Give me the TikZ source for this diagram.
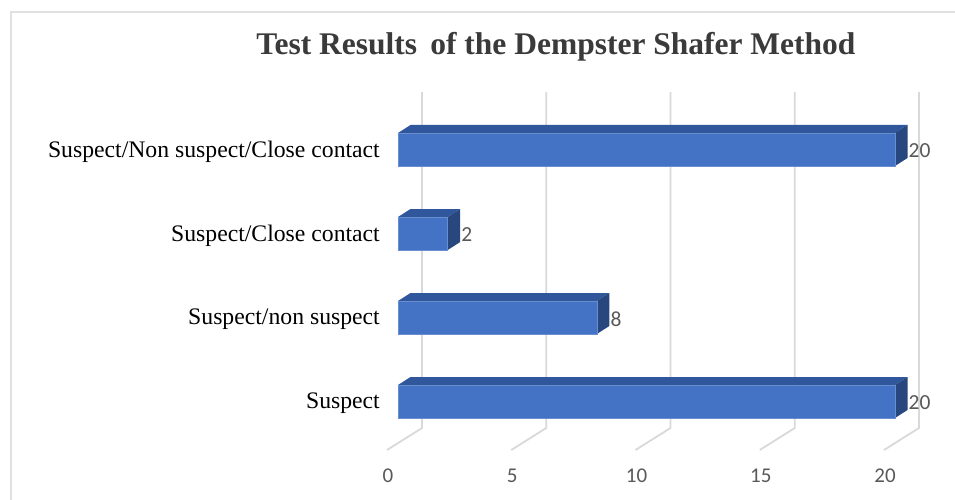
\documentclass[tikz,border=0pt]{standalone}
\usepackage{fontspec}
\setmainfont{Liberation Serif}
\newfontfamily\ticksfont{Carlito}
\definecolor{barfront}{HTML}{4472C4}
\definecolor{bartop}{HTML}{30579B}
\definecolor{barside}{HTML}{28477F}
\definecolor{gridgray}{HTML}{D9D9D9}
\definecolor{labelgray}{HTML}{595959}
\definecolor{titlegray}{HTML}{3A3A3A}
\begin{document}
\begin{tikzpicture}[x=1pt,y=-1pt,
  gridline/.style={draw=gridgray,line width=1.8pt},
  framestyle/.style={draw=gridgray!80,line width=1.5pt},
  frontface/.style={fill=barfront,draw=barfront!80!white,line width=0.6pt},
  topface/.style={fill=bartop},
  sideface/.style={fill=barside},
  catlabel/.style={anchor=east,inner sep=0pt,font=\fontsize{23.7}{27}\selectfont},
  vallabel/.style={anchor=west,inner sep=0pt,text=labelgray,font=\ticksfont\fontsize{21.5}{24}\selectfont},
  ticklabel/.style={inner sep=0pt,text=labelgray,font=\ticksfont\fontsize{21}{24}\selectfont},
  titlestyle/.style={inner sep=0pt,text=titlegray,font=\bfseries\fontsize{31.5}{36}\selectfont}]
% canvas
\fill[white] (0,0) rectangle (955,500);
\useasboundingbox (0,0) rectangle (955,500);
% chart frame
\draw[framestyle] (11,500) -- (11,12) -- (955,12);
% title
\node[titlestyle] (title) at (556,47) {Test Results\, of the Dempster Shafer Method};
% back-wall gridlines, floor lines and axis values
\foreach \k/\v in {0/0,1/5,2/10,3/15,4/20}{
  \coordinate (gtop\k) at (422+124.25*\k,92);
  \coordinate (gfoot\k) at (422+124.25*\k,428);
  \coordinate (gfront\k) at (387+124.25*\k,450);
  \draw[gridline] (gtop\k) -- (gfoot\k) -- (gfront\k);
  \node[ticklabel] (tick\k) at (388+124.25*\k,476) {\v};
}
% 3D bars: top y of the front face, value, category
\foreach \i/\yt/\val/\cat in {
  1/133/20/{Suspect/Non suspect/Close contact},
  2/217/2/{Suspect/Close contact},
  3/301/8/{Suspect/non suspect},
  4/385/20/{Suspect}}{
  \pgfmathsetmacro{\xr}{398+24.85*\val}
  \pgfmathsetmacro{\yb}{\yt+33}
  \coordinate (fl\i) at (398,\yt);
  \coordinate (fr\i) at (\xr,\yt);
  \coordinate (br\i) at (\xr,\yb);
  \coordinate (bl\i) at (398,\yb);
  \coordinate (tl\i) at (410.5,\yt-8);
  \coordinate (tr\i) at (\xr+12.5,\yt-8);
  \coordinate (sr\i) at (\xr+12.5,\yb-8);
  \fill[topface] (fl\i) -- (tl\i) -- (tr\i) -- (fr\i) -- cycle;
  \fill[sideface] (fr\i) -- (tr\i) -- (sr\i) -- (br\i) -- cycle;
  \filldraw[frontface] (fl\i) rectangle (br\i);
  \node[vallabel] (val\i) at (\xr+13.5,\yt+18) {\val};
  \node[catlabel] (cat\i) at (380,\yt+18.5) {\cat};
}
\end{tikzpicture}
\end{document}
